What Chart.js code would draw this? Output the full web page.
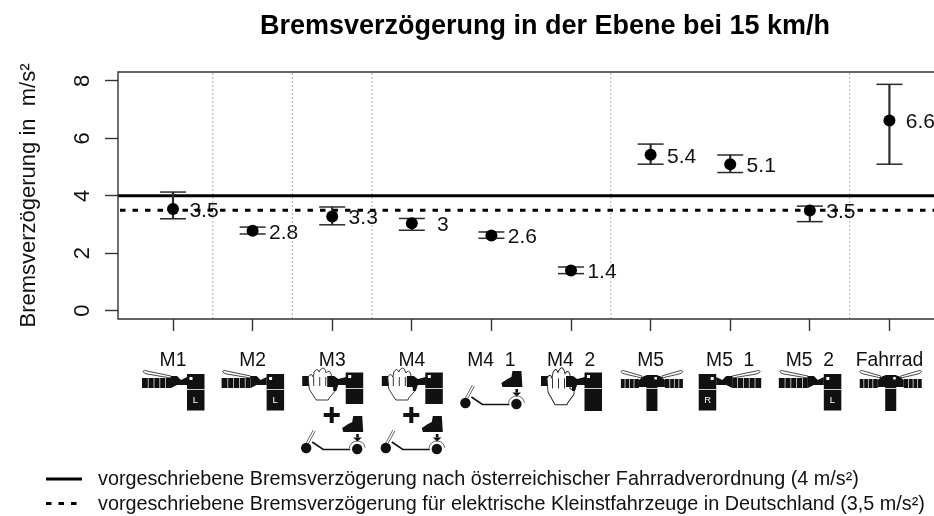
<!DOCTYPE html>
<html><head><meta charset="utf-8">
<style>html,body{margin:0;padding:0;background:#fff;overflow:hidden}canvas{display:block}</style>
<script src="https://cdn.jsdelivr.net/npm/chart.js@4"></script></head>
<body><canvas id="c" width="934" height="516"></canvas>
<script>
const categories=['M1','M2','M3','M4','M4  1','M4  2','M5','M5  1','M5  2','Fahrrad'];
const positions=[1,2,3,4,5,6,7,8,9,10];
const means=[3.54,2.78,3.28,3.04,2.62,1.40,5.43,5.10,3.49,6.62];
const upper=[4.13,2.91,3.61,3.21,2.74,1.52,5.80,5.42,3.64,7.88];
const lower=[3.20,2.67,2.99,2.80,2.52,1.29,5.10,4.81,3.10,5.10];
const valueLabels=['3.5','2.8','3.3','3','2.6','1.4','5.4','5.1','3.5','6.6'];
const yTicks=[0,2,4,6,8];
const separators=[1.5,2.5,3.5,6.5,9.5];
const limitAT=4, limitDE=3.5;
const legendAT='vorgeschriebene Bremsverzögerung nach österreichischer Fahrradverordnung (4 m/s²)';
const legendDE='vorgeschriebene Bremsverzögerung für elektrische Kleinstfahrzeuge in Deutschland (3,5 m/s²)';
const icons=['L','L','HS','HS','S','H','B','R','L','B'];
const xMin=0.309,xMax=10.56,yMin=-0.29,yMax=8.31;
const FF='"Liberation Sans",Arial,sans-serif';
const INK='#111';

function grip(ctx,x0,x1,y0,y1,n){
  ctx.fillStyle='#111';ctx.fillRect(x0,y0,x1-x0,y1-y0);
  ctx.fillStyle='#ddd';
  for(let i=1;i<=n;i++){ctx.fillRect(x0+(x1-x0)*i/(n+1),y0,0.8,y1-y0);}
}
function lever(ctx,xa,xb){
  const d=xb>xa?1:-1;
  ctx.beginPath();ctx.moveTo(xa,371.5);
  ctx.quadraticCurveTo(xa+d*1,369.5,xa+d*4,371);
  ctx.lineTo(xb,376);ctx.lineTo(xb,378);
  ctx.lineTo(xa+d*4,374);
  ctx.quadraticCurveTo(xa+d*1,373.5,xa,371.5);ctx.closePath();
  ctx.fillStyle='#fff';ctx.fill();ctx.strokeStyle='#333';ctx.lineWidth=0.9;ctx.stroke();
}
function halfHandle(ctx,x,dir,letter){
  ctx.save();ctx.translate(x,0);ctx.scale(dir,1);
  lever(ctx,-30,-2);
  grip(ctx,-31,-2,378,388,4);
  ctx.fillStyle='#111';
  ctx.beginPath();ctx.moveTo(-2,376);ctx.lineTo(4,376);ctx.lineTo(8,380);ctx.lineTo(14,377);ctx.lineTo(14,385);ctx.lineTo(4,385);ctx.lineTo(-2,388);ctx.closePath();ctx.fill();
  ctx.fillRect(14,374,17.5,36.5);
  ctx.fillStyle='#fff';ctx.fillRect(14,389,17.5,0.8);ctx.fillRect(16.5,377,3,3);
  ctx.restore();
  ctx.fillStyle='#fff';ctx.font='9.5px '+FF;ctx.textAlign='center';ctx.textBaseline='middle';
  ctx.fillText(letter,x+dir*22.5,400.5);
}
function bothHandle(ctx,x){
  ctx.save();ctx.translate(x+1.3,0);
  [-1,1].forEach(d=>{
    ctx.save();ctx.scale(d,1);
    lever(ctx,31,10);
    grip(ctx,13,31,379,388,3);
    ctx.fillStyle='#111';
    ctx.beginPath();ctx.moveTo(3,375);ctx.lineTo(8,376);ctx.lineTo(13,380);ctx.lineTo(13,387);ctx.lineTo(3,387);ctx.closePath();ctx.fill();
    ctx.restore();
  });
  ctx.fillStyle='#111';ctx.fillRect(-5.5,375,11,36);
  ctx.fillStyle='#fff';ctx.fillRect(-5.5,388,11,0.8);ctx.fillRect(2.5,377,2.5,2.5);
  ctx.restore();
}
function hand(ctx,x,k,tall){
  ctx.save();ctx.translate(x,0);
  ctx.fillStyle='#111';ctx.fillRect(-30,376,7,10);
  const by=tall?411:404;
  ctx.fillRect(13.5,372.5,17.5,by-372.5);
  ctx.save();ctx.translate(0,369);ctx.scale(1,k);
  ctx.beginPath();
  ctx.moveTo(-16,31);ctx.lineTo(-23,20);ctx.lineTo(-24,8);
  ctx.quadraticCurveTo(-21,3,-19,8);
  ctx.lineTo(-18,3);ctx.quadraticCurveTo(-15,-2,-13,3);
  ctx.lineTo(-12,1);ctx.quadraticCurveTo(-9,-3,-7,1);
  ctx.lineTo(-6,4);ctx.quadraticCurveTo(-3,0,-1,5);
  ctx.lineTo(-1,17);ctx.lineTo(3,19);ctx.lineTo(3,22);ctx.lineTo(-3,29);ctx.lineTo(-4,31);ctx.closePath();
  ctx.fillStyle='#fff';ctx.fill();ctx.strokeStyle='#222';ctx.lineWidth=0.9;ctx.stroke();
  ctx.beginPath();
  [-18.5,-12.5,-6.5].forEach(v=>{ctx.moveTo(v,8);ctx.lineTo(v,17);});
  ctx.stroke();
  ctx.restore();
  ctx.fillStyle='#111';
  ctx.beginPath();ctx.moveTo(-5,376);ctx.lineTo(2,376);ctx.lineTo(6,379);ctx.lineTo(14,377);ctx.lineTo(14,385);ctx.lineTo(6,385);ctx.lineTo(4,391);ctx.lineTo(1,391);ctx.lineTo(1,387);ctx.lineTo(-5,387);ctx.closePath();ctx.fill();
  ctx.fillStyle='#fff';ctx.fillRect(13.5,388,17.5,0.8);ctx.fillRect(16,375,3,3);
  ctx.restore();
}
function scooter(ctx,x,dy){
  ctx.save();ctx.translate(x,dy);
  ctx.fillStyle='#111';ctx.strokeStyle='#111';
  ctx.beginPath();ctx.arc(-26,403,5.2,0,7);ctx.fill();
  ctx.beginPath();ctx.arc(25,404,5.2,0,7);ctx.fill();
  ctx.lineWidth=1.6;ctx.beginPath();ctx.moveTo(-20,397);ctx.lineTo(-9,404.5);ctx.lineTo(18,404.5);ctx.stroke();
  ctx.lineWidth=0.8;ctx.strokeStyle='#444';
  ctx.beginPath();ctx.moveTo(-26,398);ctx.lineTo(-19,385);ctx.moveTo(-24,399);ctx.lineTo(-17,386);ctx.stroke();
  ctx.beginPath();ctx.arc(25,404,8,Math.PI*1.02,Math.PI*1.95);ctx.stroke();
  ctx.fillStyle='#111';
  ctx.beginPath();ctx.moveTo(21,371);ctx.lineTo(30,371);ctx.lineTo(31,387);ctx.lineTo(11,387);ctx.lineTo(10,383);ctx.lineTo(16,379);ctx.lineTo(20,377);ctx.closePath();ctx.fill();
  ctx.fillRect(24,389,2.6,3.5);
  ctx.beginPath();ctx.moveTo(21,392.5);ctx.lineTo(29.6,392.5);ctx.lineTo(25.3,396.5);ctx.closePath();ctx.fill();
  ctx.restore();
}
function plus(ctx,x){ctx.fillStyle='#111';ctx.fillRect(x-8.5,413,16,4);ctx.fillRect(x-2.5,407,4,16);}

const pictograms={id:'pictograms',afterDraw(chart){
  const ctx=chart.ctx,sx=chart.scales.x;ctx.save();
  icons.forEach((kind,i)=>{
    const x=sx.getPixelForValue(positions[i]);
    if(kind==='L')halfHandle(ctx,x,1,'L');
    if(kind==='R')halfHandle(ctx,x,-1,'R');
    if(kind==='B')bothHandle(ctx,x);
    if(kind==='HS'){hand(ctx,x,1,false);plus(ctx,x);scooter(ctx,x,45);}
    if(kind==='H')hand(ctx,x,1.15,true);
    if(kind==='S')scooter(ctx,x,0);
  });
  ctx.restore();
}};
const frame={id:'frame',afterDatasetsDraw(chart){
  const {ctx,chartArea:a}=chart;ctx.save();
  ctx.strokeStyle='#333';ctx.lineWidth=1.4;
  ctx.beginPath();ctx.moveTo(a.right+2,a.top);ctx.lineTo(a.left,a.top);ctx.lineTo(a.left,a.bottom);ctx.lineTo(a.right+2,a.bottom);ctx.stroke();
  ctx.fillStyle=INK;ctx.font='21px '+FF;ctx.textAlign='center';ctx.textBaseline='middle';
  valueLabels.forEach((t,i)=>{
    ctx.fillText(t,chart.scales.x.getPixelForValue(positions[i])+31,chart.scales.y.getPixelForValue(means[i])+2);
  });
  ctx.restore();
}};
const legendBlock={id:'legendBlock',afterDraw(chart){
  const ctx=chart.ctx;ctx.save();
  ctx.fillStyle=INK;ctx.font='19.8px '+FF;ctx.textAlign='left';ctx.textBaseline='middle';
  ctx.fillText(legendAT,98,480);ctx.fillText(legendDE,98,505);
  ctx.strokeStyle='#000';ctx.lineWidth=3;
  ctx.beginPath();ctx.moveTo(46,479);ctx.lineTo(82,479);ctx.stroke();
  ctx.setLineDash([5.5,7]);
  ctx.beginPath();ctx.moveTo(46,503.5);ctx.lineTo(82,503.5);ctx.stroke();
  ctx.restore();
}};
const shiftTitle={id:'shiftTitle',afterLayout(chart){
  const t=chart.titleBlock; if(t){t.left=156;t.right=934;}
}};

const gridData=separators.flatMap(s=>[{x:s,y:yMin},{x:s,y:yMax},{x:s,y:null}]);

new Chart(document.getElementById('c'),{
  data:{datasets:[
    {type:'scatter',label:'Mittelwert',data:positions.map((p,i)=>({x:p,y:means[i]})),pointRadius:6,pointBackgroundColor:'#000',pointBorderWidth:0,order:1},
    {type:'scatter',label:'Obergrenze',data:positions.map((p,i)=>({x:p,y:upper[i]})),pointStyle:'line',pointRadius:13,pointBorderWidth:1.5,pointBorderColor:'#2a2a2a',order:2},
    {type:'scatter',label:'Untergrenze',data:positions.map((p,i)=>({x:p,y:lower[i]})),pointStyle:'line',pointRadius:13,pointBorderWidth:1.5,pointBorderColor:'#2a2a2a',order:2},
    {type:'bar',label:'Fehlerbalken',data:positions.map((p,i)=>({x:p,y:[lower[i],upper[i]]})),barThickness:1.5,backgroundColor:'#2a2a2a',order:3},
    {type:'line',label:legendAT,data:[{x:xMin,y:limitAT},{x:xMax,y:limitAT}],borderColor:'#000',borderWidth:3,pointRadius:0,order:4},
    {type:'line',label:legendDE,data:[{x:xMin,y:limitDE},{x:xMax,y:limitDE}],borderColor:'#000',borderWidth:3,borderDash:[5.5,7],borderDashOffset:-2,pointRadius:0,order:5},
    {type:'line',label:'Trennlinien',data:gridData,borderColor:'#bdbdbd',borderWidth:1.2,borderDash:[2,2],pointRadius:0,spanGaps:false,order:6}
  ]},
  options:{
    responsive:false,animation:false,
    layout:{autoPadding:false,padding:{left:0,right:0,top:0,bottom:0}},
    plugins:{
      legend:{display:false},tooltip:{enabled:false},
      title:{display:true,text:'Bremsverzögerung in der Ebene bei 15 km/h',color:'#000',
        font:{family:FF,size:27,weight:'bold',lineHeight:1.2},padding:{top:10,bottom:29.6}}
    },
    scales:{
      x:{type:'linear',offset:false,min:xMin,max:xMax,
        afterBuildTicks:s=>{s.ticks=positions.map(v=>({value:v}));},
        afterFit:s=>{s.height=197;s.paddingLeft=0;s.paddingRight=0;},
        grid:{offset:false,drawOnChartArea:false,tickLength:12,tickColor:'#333',tickWidth:1.4},
        border:{display:false},
        ticks:{autoSkip:false,maxRotation:0,minRotation:0,padding:18,color:INK,font:{family:FF,size:19.3},
          callback:v=>categories[positions.indexOf(v)]}},
      y:{type:'linear',min:yMin,max:yMax,
        afterBuildTicks:s=>{s.ticks=yTicks.map(v=>({value:v}));},
        afterFit:s=>{s.width=118;},
        grid:{drawOnChartArea:false,tickLength:13,tickColor:'#333',tickWidth:1.4},
        border:{display:false},
        title:{display:true,text:'Bremsverzögerung in  m/s²',color:INK,font:{family:FF,size:22},padding:{top:16,bottom:0}},
        ticks:{minRotation:90,maxRotation:90,padding:16,color:INK,font:{family:FF,size:22},align:'center',crossAlign:'center'}}
    }
  },
  plugins:[shiftTitle,frame,pictograms,legendBlock]
});
</script></body></html>
